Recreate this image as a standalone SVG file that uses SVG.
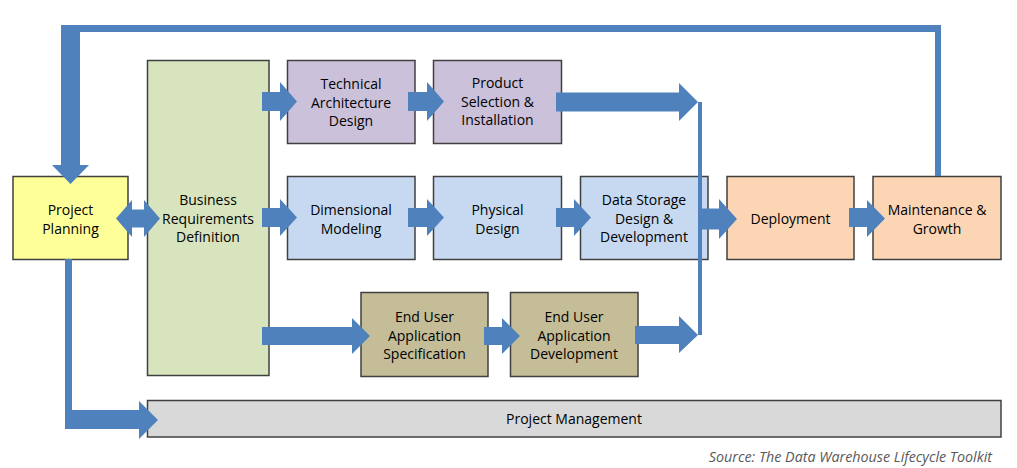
<svg xmlns="http://www.w3.org/2000/svg" width="1017" height="468" viewBox="0 0 1017 468">
<style>
.box{stroke:#404040;stroke-width:1.5}
.t{font-family:"Open Sans","Noto Sans","DejaVu Sans",sans-serif;font-size:14px;fill:#000;text-anchor:middle}
.a{fill:#4F81BD}
.src{font-family:"Open Sans","Noto Sans","DejaVu Sans",sans-serif;font-size:14.3px;font-style:italic;fill:#595959;text-anchor:end}
</style>
<rect width="1017" height="468" fill="#fff"/>
<g id="project-planning">
<rect class="box" x="13" y="176.5" width="115" height="83" fill="#FFFF99"/>
<text class="t" x="70.5" y="215">Project</text>
<text class="t" x="70.5" y="233.5">Planning</text>
</g>
<g id="business-requirements">
<rect class="box" x="147.5" y="60.5" width="121.5" height="315" fill="#D7E4BD"/>
<text class="t" x="208" y="205">Business</text>
<text class="t" x="208" y="223.5">Requirements</text>
<text class="t" x="208" y="242">Definition</text>
</g>
<g id="technical-architecture">
<rect class="box" x="287.5" y="60.5" width="127.5" height="83" fill="#CCC1DA"/>
<text class="t" x="351" y="89">Technical</text>
<text class="t" x="351" y="107.5">Architecture</text>
<text class="t" x="351" y="126">Design</text>
</g>
<g id="product-selection">
<rect class="box" x="433.5" y="60.5" width="128" height="83" fill="#CCC1DA"/>
<text class="t" x="497.5" y="88">Product</text>
<text class="t" x="497.5" y="106.5">Selection &amp;</text>
<text class="t" x="497.5" y="125">Installation</text>
</g>
<g id="dimensional-modeling">
<rect class="box" x="287.5" y="176.5" width="127.5" height="83" fill="#C6D9F1"/>
<text class="t" x="351" y="215">Dimensional</text>
<text class="t" x="351" y="233.5">Modeling</text>
</g>
<g id="physical-design">
<rect class="box" x="433.5" y="176.5" width="128" height="83" fill="#C6D9F1"/>
<text class="t" x="497.5" y="215">Physical</text>
<text class="t" x="497.5" y="233.5">Design</text>
</g>
<g id="data-storage">
<rect class="box" x="580.5" y="176.5" width="127.5" height="83" fill="#C6D9F1"/>
<text class="t" x="644" y="205">Data Storage</text>
<text class="t" x="644" y="223.5">Design &amp;</text>
<text class="t" x="644" y="242">Development</text>
</g>
<g id="deployment">
<rect class="box" x="727" y="176.5" width="127" height="83" fill="#FCD5B5"/>
<text class="t" x="790.5" y="223.5">Deployment</text>
</g>
<g id="maintenance-growth">
<rect class="box" x="873" y="176.5" width="128" height="83" fill="#FCD5B5"/>
<text class="t" x="937" y="215">Maintenance &amp;</text>
<text class="t" x="937" y="233.5">Growth</text>
</g>
<g id="eu-spec">
<rect class="box" x="361" y="292.5" width="127" height="84" fill="#C4BD97"/>
<text class="t" x="424.5" y="322">End User</text>
<text class="t" x="424.5" y="340.5">Application</text>
<text class="t" x="424.5" y="359">Specification</text>
</g>
<g id="eu-dev">
<rect class="box" x="510.5" y="292.5" width="127.5" height="84" fill="#C4BD97"/>
<text class="t" x="574" y="322">End User</text>
<text class="t" x="574" y="340.5">Application</text>
<text class="t" x="574" y="359">Development</text>
</g>
<g id="project-management">
<rect class="box" x="147.5" y="400.5" width="853.5" height="36.5" fill="#D9D9D9"/>
<text class="t" x="574" y="424">Project Management</text>
</g>
<g id="connectors">
<polygon class="a" points="941,176 941,25 61,25 61,165 52,165 70.5,184 89,165 80,165 80,32 935,32 935,176"/>
<polygon class="a" points="65,259 72,259 72,410 139,410 139,401 158,420 139,439 139,429 65,429"/>
<polygon class="a" points="116,218.5 132,200 132,209.5 144,209.5 144,200 160,218.5 144,237 144,227.5 132,227.5 132,237"/>
<polygon class="a" points="262,92 280,92 280,82 297,101.5 280,121 280,111 262,111"/>
<polygon class="a" points="408,92 427,92 427,82 444,101.5 427,121 427,111 408,111"/>
<polygon class="a" points="556,92.5 679,92.5 679,83 698,102 679,121 679,111.5 556,111.5"/>
<polygon class="a" points="262,208 280,208 280,199 297,217.5 280,236 280,227 262,227"/>
<polygon class="a" points="408,208 427,208 427,199 444,217.5 427,236 427,227 408,227"/>
<polygon class="a" points="556,208 574,208 574,199 591,217.5 574,236 574,227 556,227"/>
<polygon class="a" points="702,208.5 719,208.5 719,199 737,219 719,239 719,229.5 702,229.5"/>
<polygon class="a" points="849,208 867,208 867,200 885,218.5 867,237 867,227 849,227"/>
<polygon class="a" points="262,327 352,327 352,318 370,336 352,354 352,345 262,345"/>
<polygon class="a" points="484,327 502,327 502,318 520,336 502,354 502,345 484,345"/>
<polygon class="a" points="635,326 679,326 679,316 698,335 679,353 679,344 635,344"/>
<rect class="a" x="698" y="102" width="4" height="233"/>
</g>
<text class="src" x="992" y="462">Source: The Data Warehouse Lifecycle Toolkit</text>
</svg>
